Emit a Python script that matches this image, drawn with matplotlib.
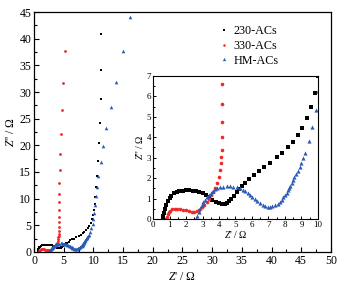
import matplotlib
matplotlib.use("Agg")
import matplotlib.pyplot as plt
from matplotlib.ticker import MultipleLocator

plt.rcParams['font.family'] = ['Liberation Serif', 'DejaVu Serif']
plt.rcParams['mathtext.fontset'] = 'custom'
plt.rcParams['mathtext.rm'] = 'Liberation Serif'
plt.rcParams['mathtext.it'] = 'Liberation Serif:italic'

labels = ["230-ACs", "330-ACs", "HM-ACs"]
colors = ["#000000", "#f02828", "#2a5bb5"]
markers = ["s", "o", "^"]

# 230-ACs
x_230 = [0.6, 0.63, 0.67, 0.72, 0.8, 0.9, 1.0, 1.12, 1.27, 1.43, 1.6, 1.8, 2.0, 2.2, 2.4,
         2.6, 2.8, 3.0, 3.2, 3.4, 3.6, 3.8, 4.0, 4.2, 4.35, 4.5, 4.62, 4.75, 4.9, 5.07,
         5.23, 5.39, 5.6, 5.84, 6.12, 6.42, 6.75, 7.09, 7.5, 7.84, 8.18, 8.48, 8.76, 9.05,
         9.31, 9.58, 9.82, 10.0, 10.1, 10.2, 10.33, 10.45, 10.62, 10.8, 11.0, 11.15, 11.2,
         11.3, 11.3]
y_230 = [0.0, 0.15, 0.3, 0.5, 0.7, 0.88, 1.02, 1.15, 1.25, 1.32, 1.37, 1.39, 1.4, 1.4, 1.39,
         1.37, 1.33, 1.26, 1.17, 1.06, 0.95, 0.84, 0.76, 0.71, 0.72, 0.79, 0.87, 0.98, 1.15, 1.32,
         1.47, 1.6, 1.76, 1.96, 2.16, 2.35, 2.53, 2.76, 3.02, 3.25, 3.53, 3.79, 4.1, 4.46,
         4.92, 5.46, 6.18, 7.0, 7.9, 9.0, 10.4, 12.1, 14.3, 17.0, 20.4, 24.1, 28.6,
         34.1, 40.9]

# 330-ACs
x_330 = [0.78, 0.82, 0.88, 0.96, 1.06, 1.18, 1.32, 1.48, 1.65, 1.83, 2.0, 2.17, 2.34, 2.5,
         2.65, 2.8, 2.95, 3.1, 3.25, 3.4, 3.53, 3.66, 3.78, 3.88, 3.97, 4.05, 4.1, 4.14,
         4.16, 4.16, 4.16, 4.16, 4.16, 4.18, 4.2, 4.24, 4.28, 4.32, 4.38, 4.5, 4.68, 4.95, 5.24]
y_330 = [0.0, 0.12, 0.24, 0.33, 0.41, 0.47, 0.5, 0.51, 0.5, 0.46, 0.42, 0.38, 0.35, 0.35,
         0.39, 0.46, 0.58, 0.7, 0.84, 1.0, 1.16, 1.33, 1.52, 1.75, 2.05, 2.4, 2.75, 3.05,
         3.38, 3.99, 4.74, 5.62, 6.63, 7.8, 9.3, 10.9, 12.9, 15.4, 18.4, 22.1, 26.6, 31.6, 37.7]

# HM-ACs
x_hm = [2.62, 2.68, 2.76, 2.85, 2.95, 3.05, 3.15, 3.25, 3.37, 3.5, 3.63, 3.76, 3.9, 4.06,
        4.25, 4.47, 4.67, 4.87, 5.07, 5.27, 5.43, 5.58, 5.73, 5.88, 6.03, 6.18, 6.33, 6.48,
        6.64, 6.79, 6.94, 7.09, 7.24, 7.39, 7.55, 7.7, 7.8, 7.9, 8.0, 8.1, 8.18, 8.26, 8.33,
        8.4, 8.48, 8.56, 8.66, 8.77, 8.88, 8.99, 9.1, 9.22, 9.43, 9.66, 9.87, 9.98, 10.1,
        10.25, 10.42, 10.53, 10.76, 11.26, 11.7, 12.2, 12.9, 13.85, 14.98, 16.16]
y_hm = [0.0, 0.15, 0.35, 0.52, 0.68, 0.82, 0.95, 1.06, 1.17, 1.26, 1.37, 1.45, 1.51, 1.55,
        1.58, 1.6, 1.6, 1.58, 1.55, 1.5, 1.44, 1.37, 1.28, 1.18, 1.07, 0.97, 0.87, 0.78,
        0.7, 0.64, 0.61, 0.6, 0.62, 0.67, 0.75, 0.85, 0.95, 1.06, 1.17, 1.29, 1.4, 1.5, 1.62,
        1.75, 1.9, 2.04, 2.2, 2.37, 2.55, 2.74, 2.97, 3.23, 3.84, 4.52, 5.33, 6.27, 7.4,
        8.8, 10.5, 12.2, 14.3, 16.8, 19.9, 23.2, 27.1, 31.9, 37.6, 44.06]

series = [(x_230, y_230), (x_330, y_330), (x_hm, y_hm)]

fig = plt.figure(figsize=(3.45, 2.84), dpi=100)
ax = fig.add_axes([0.0986, 0.1127, 0.8605, 0.845])

main_ms = [2.0, 2.0, 2.6]
for (xs, ys), lab, c, m, ms in zip(series, labels, colors, markers, main_ms):
    ax.plot(xs, ys, linestyle='none', marker=m, color=c, markersize=ms,
            markeredgewidth=0, label=lab)

ax.set_xlim(0, 50)
ax.set_ylim(0, 45)
ax.xaxis.set_major_locator(MultipleLocator(5))
ax.xaxis.set_minor_locator(MultipleLocator(2.5))
ax.yaxis.set_major_locator(MultipleLocator(5))
ax.yaxis.set_minor_locator(MultipleLocator(2.5))
ax.tick_params(which='both', direction='in', top=False, right=False, labelsize=8.5, pad=2)
ax.tick_params(which='major', length=3.5, width=0.8)
ax.tick_params(which='minor', length=2, width=0.8)
for sp in ax.spines.values():
    sp.set_linewidth(0.9)
ax.set_xlabel(r"$Z$' / Ω", fontsize=8.5, labelpad=3)
ax.set_ylabel(r"$Z$'' / Ω", fontsize=8.5, labelpad=2)

leg = ax.legend(loc='upper left', bbox_to_anchor=(0.615, 0.965), frameon=False,
                fontsize=8.7, handlelength=0.5, handletextpad=0.5, labelspacing=0.22,
                borderaxespad=0, markerscale=0.9)

ins = fig.add_axes([0.4435, 0.2289, 0.4782, 0.5035])
ins_ms = [2.6, 2.6, 3.0]
for (xs, ys), c, m, ms in zip(series, colors, markers, ins_ms):
    ins.plot(xs, ys, linestyle='none', marker=m, color=c, markersize=ms,
             markeredgewidth=0)
ins.set_xlim(0, 10)
ins.set_ylim(0, 7)
ins.xaxis.set_major_locator(MultipleLocator(1))
ins.xaxis.set_minor_locator(MultipleLocator(0.5))
ins.yaxis.set_major_locator(MultipleLocator(1))
ins.yaxis.set_minor_locator(MultipleLocator(0.5))
ins.tick_params(which='both', direction='in', top=False, right=False, labelsize=6.5, pad=1.5)
ins.tick_params(which='major', length=2.5, width=0.7)
ins.tick_params(which='minor', length=1.3, width=0.7)
for sp in ins.spines.values():
    sp.set_linewidth(0.8)
ins.set_xlabel(r"$Z$' / Ω", fontsize=7, labelpad=0)
ins.set_ylabel(r"$Z$'' / Ω", fontsize=7, labelpad=1)

fig.savefig("out.png", dpi=100)
